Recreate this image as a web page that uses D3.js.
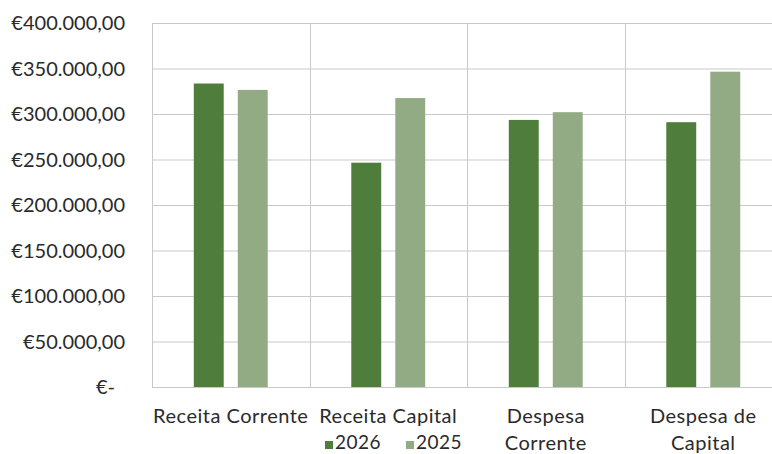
<!DOCTYPE html>
<html>
<head>
<meta charset="utf-8">
<script src="https://cdn.jsdelivr.net/npm/d3@7"></script>
<style>
  body { margin: 0; background: #fff; }
  text { font-family: Lato, "Open Sans", sans-serif; fill: #2a2a2a; }
</style>
</head>
<body>
<svg id="chart"></svg>
<script>
const width = 772;
const height = 454;

// data
const categories = ["Receita Corrente", "Receita Capital", "Despesa Corrente", "Despesa de Capital"];
const categoryLines = [["Receita Corrente"], ["Receita Capital"], ["Despesa", "Corrente"], ["Despesa de", "Capital"]];
const years = ["2026", "2025"];
const values2026 = [333500, 246500, 293500, 291000];
const values2025 = [326500, 317500, 302000, 346500];
const yTicks = [0, 50000, 100000, 150000, 200000, 250000, 300000, 350000, 400000];

const colors = { "2026": "#4e7d3c", "2025": "#93ab84" };

const svg = d3.select("#chart")
    .attr("width", width)
    .attr("height", height);

// plot area (right side runs past the picture edge)
const margin = { left: 152, top: 23, right: -10, bottom: 67 };

const x0 = d3.scaleBand()
    .domain(categories)
    .range([margin.left, width - margin.right])
    .paddingInner(0)
    .paddingOuter(0);

const x1 = d3.scaleBand()
    .domain(years)
    .range([0, x0.bandwidth()])
    .paddingInner(0.32)
    .paddingOuter(0.95);

const y = d3.scaleLinear()
    .domain([0, 400000])
    .range([height - margin.bottom, margin.top]);

// euro format like the Excel one
const locale = d3.formatLocale({ decimal: ",", thousands: ".", grouping: [3], currency: ["€", ""] });
const fmt = locale.format("$,.2f");

// horizontal gridlines
svg.append("g")
  .selectAll("line")
  .data(yTicks)
  .join("line")
    .attr("x1", margin.left)
    .attr("x2", width)
    .attr("y1", d => y(d) + 0.5)
    .attr("y2", d => y(d) + 0.5)
    .attr("stroke", "#c9c9c9")
    .attr("stroke-width", 1);

// vertical gridlines between categories
svg.append("g")
  .selectAll("line")
  .data(categories)
  .join("line")
    .attr("x1", d => Math.round(x0(d)) + 0.5)
    .attr("x2", d => Math.round(x0(d)) + 0.5)
    .attr("y1", y(400000))
    .attr("y2", y(0))
    .attr("stroke", "#c9c9c9")
    .attr("stroke-width", 1);

// y tick labels
svg.append("g")
  .selectAll("text")
  .data(yTicks)
  .join("text")
    .attr("x", d => d === 0 ? 115 : 125)
    .attr("y", d => y(d))
    .attr("dy", "0.35em")
    .attr("text-anchor", "end")
    .style("font-size", "20px")
    .text(d => d === 0 ? "€-" : fmt(d));

// bars
const rows = categories.map((c, i) => ({ category: c, "2026": values2026[i], "2025": values2025[i] }));

svg.append("g")
  .selectAll("g")
  .data(rows)
  .join("g")
    .attr("transform", d => `translate(${x0(d.category)},0)`)
  .selectAll("rect")
  .data(d => years.map(k => ({ key: k, value: d[k] })))
  .join("rect")
    .attr("x", d => x1(d.key))
    .attr("width", x1.bandwidth())
    .attr("y", d => y(d.value))
    .attr("height", d => y(0) - y(d.value))
    .attr("fill", d => colors[d.key]);

// category labels, wrapped like the original
const labels = svg.append("g")
  .selectAll("text")
  .data(categories)
  .join("text")
    .attr("x", d => x0(d) + x0.bandwidth() / 2)
    .attr("y", 423)
    .attr("text-anchor", "middle")
    .style("font-size", "20px")
    .style("letter-spacing", "0.5px");

labels.selectAll("tspan")
  .data((d, i) => categoryLines[i])
  .join("tspan")
    .attr("x", function() { return this.parentNode.getAttribute("x"); })
    .attr("dy", (d, i) => i === 0 ? 0 : 27)
    .text(d => d);

// legend
const legend = svg.append("g")
  .selectAll("g")
  .data(years)
  .join("g")
    .attr("transform", (d, i) => `translate(${325 + i * 81},0)`);

legend.append("rect")
    .attr("x", 0)
    .attr("y", 441)
    .attr("width", 8)
    .attr("height", 8)
    .attr("fill", d => colors[d]);

legend.append("text")
    .attr("x", 10)
    .attr("y", 449)
    .style("font-size", "19px")
    .style("letter-spacing", "0.5px")
    .text(d => d);
</script>
</body>
</html>
